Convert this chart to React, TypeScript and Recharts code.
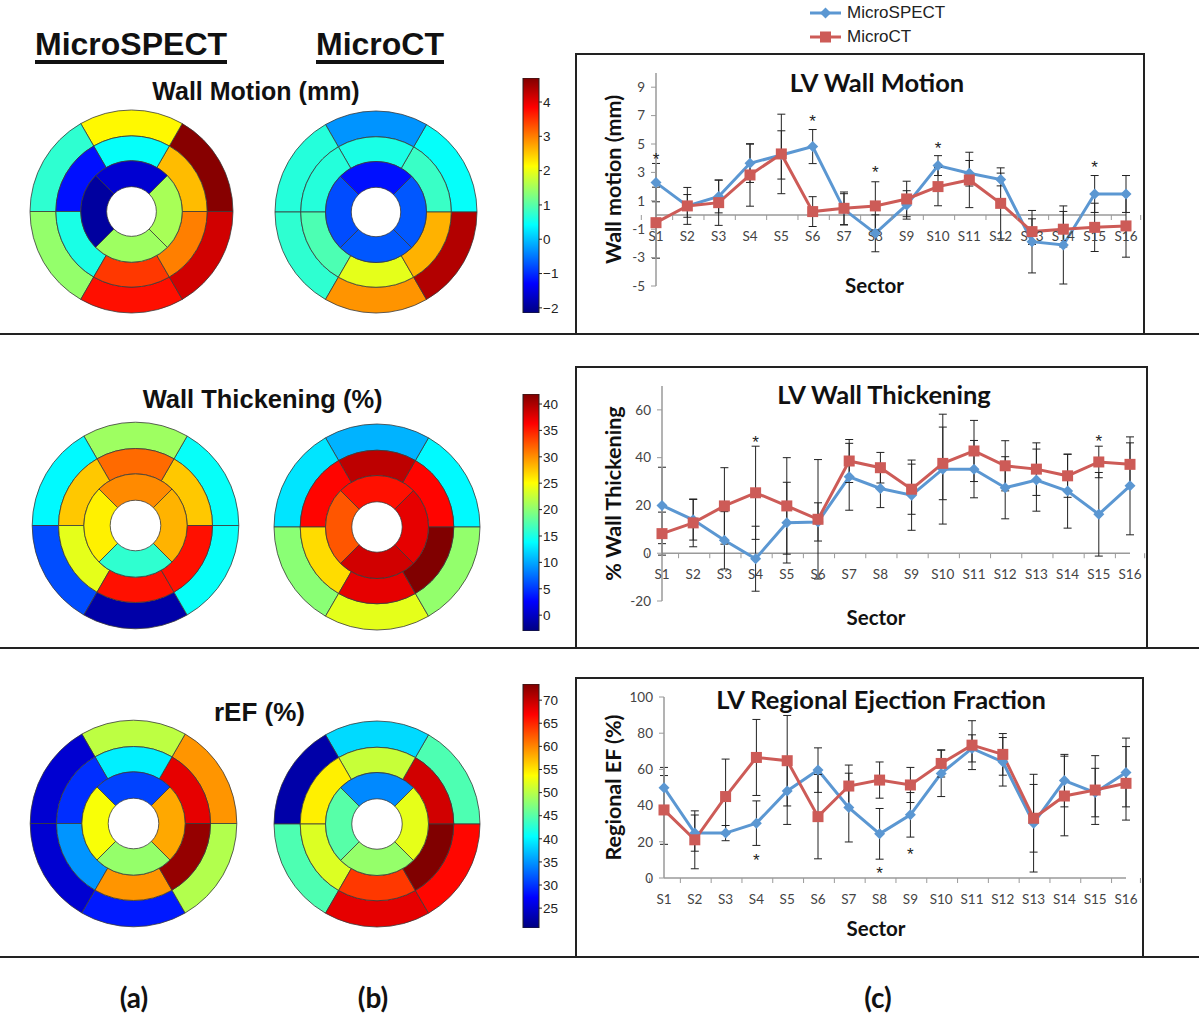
import React from 'react'
import {
  Bar,
  BarChart,
  Cell,
  ComposedChart,
  ErrorBar,
  Legend,
  Line,
  Pie,
  PieChart,
  ReferenceDot,
  ReferenceLine,
  XAxis,
  YAxis,
} from 'recharts'

// ---- line chart data ----
const sectors = ['S1', 'S2', 'S3', 'S4', 'S5', 'S6', 'S7', 'S8', 'S9', 'S10', 'S11', 'S12', 'S13', 'S14', 'S15', 'S16']

const wmSpect = [2.28, 0.64, 1.3, 3.64, 4.23, 4.82, 0.4, -1.29, 0.71, 3.48, 2.94, 2.5, -1.88, -2.11, 1.48, 1.48]
const wmSpectErr = [1.35, 1.3, 1.15, 1.35, 1.7, 1.2, 1.1, 1.3, 1.0, 0.7, 0.9, 0.45, 2.2, 2.75, 1.3, 1.3]
const wmCt = [-0.54, 0.64, 0.87, 2.82, 4.3, 0.24, 0.47, 0.64, 1.13, 2.0, 2.47, 0.82, -1.17, -1.0, -0.87, -0.77]
const wmCtErr = [2.5, 0.8, 1.6, 2.2, 2.8, 1.05, 1.15, 1.7, 1.25, 1.35, 1.95, 2.5, 0.9, 1.25, 1.7, 2.2]
const wmStars = [4.2, null, null, null, null, 6.9, null, 3.3, null, 5.0, null, null, null, null, 3.6, null]
const wmTicks = [-5, -3, -1, 1, 3, 5, 7, 9]

const wtSpect = [20, 14, 5.4, -2.3, 12.8, 13.1, 32, 27.1, 24.3, 35.2, 35.2, 27.4, 30.6, 26, 16.3, 28.2]
const wtSpectErr = [16, 8.5, 12, 13.6, 16.9, 8, 14, 8, 14.7, 23, 12, 13, 13, 15.5, 17.5, 20.5]
const wtCt = [8.2, 12.7, 19.8, 25.3, 19.8, 14.2, 38.6, 35.8, 26.8, 37.6, 42.8, 36.6, 35.2, 32.4, 38.2, 37.2]
const wtCtErr = [9, 10, 16, 19.5, 20.2, 25, 9, 6.4, 10.5, 15.2, 12.8, 10.5, 11, 9, 6.6, 9]
const wtStars = [null, null, null, 48.2, null, null, null, null, null, null, null, null, null, null, 48.6, null]
const wtTicks = [-20, 0, 20, 40, 60]

const efSpect = [49.9, 24.8, 24.8, 30.3, 48.1, 59.6, 38.9, 24.4, 34.9, 57.8, 71.6, 64.2, 30.3, 53.8, 47.2, 58.3]
const efSpectErr = [11.2, 10, 4.2, 12.3, 18.5, 12.3, 19, 14, 12.3, 12.8, 7.5, 13.4, 27, 14.5, 13.4, 19]
const efCt = [37.6, 21.1, 45, 66.6, 64.8, 33.9, 50.8, 54.1, 51.4, 63.3, 73.4, 68.3, 33, 45.3, 48.6, 52.3]
const efCtErr = [19, 16, 20.7, 21, 25, 23.3, 11.6, 10, 9.7, 7.5, 13.5, 11.5, 18.7, 22, 19, 20.3]
const efStars = [null, null, null, 11.9, null, null, null, 4.6, 15.2, null, null, null, null, null, null, null]
const efTicks = [0, 20, 40, 60, 80, 100]

// ---- bull's-eye values: outer/middle rings from 0deg counter-clockwise, inner ring from top ----
const wmSpectOuter = [4.65, 2.17, 0.73, 1.41, 3.74, 4.15]
const wmSpectMiddle = [2.58, 0.45, -1.19, 0.59, 3.47, 2.99]
const wmSpectInner = [-1.6, -1.94, 1.48, 1.55]
const wmCtOuter = [0.45, -0.3, 0.66, 0.73, 2.85, 4.36]
const wmCtMiddle = [0.8, 0.59, 0.66, 0.93, 1.96, 2.65]
const wmCtInner = [-1.19, -0.78, -0.71, -0.71]

const wtSpectOuter = [14.1, 20.8, 13.6, 6.0, -1.2, 14.1]
const wtSpectMiddle = [27.5, 31.6, 27.5, 23.9, 35.6, 35.6]
const wtSpectInner = [30.2, 25.7, 15.9, 28.4]
const wtCtOuter = [13.6, 10.5, 12.7, 19.9, 23.9, 20.3]
const wtCtMiddle = [36.1, 39.2, 36.1, 26.6, 37.4, 41.9]
const wtCtInner = [35.6, 32.5, 38.3, 37.4]

const efSpectOuter = [59.2, 50.3, 24.9, 24.9, 28.6, 49.7]
const efSpectMiddle = [68.2, 39.7, 29.7, 35, 59.2, 72.4]
const efSpectInner = [30.7, 53.4, 48.2, 58.2]
const efCtOuter = [44.5, 38.6, 22.8, 44.5, 68.2, 66.6]
const efCtMiddle = [69.3, 50.8, 54.5, 51.9, 64, 73.5]
const efCtInner = [34.4, 45, 48.2, 52.4]

const wmRange = [-2.15, 4.7]
const wtRange = [-3, 41.9]
const efRange = [20.7, 73.5]
const wmBarTicks = [-2, -1, 0, 1, 2, 3, 4]
const wtBarTicks = [0, 5, 10, 15, 20, 25, 30, 35, 40]
const efBarTicks = [25, 30, 35, 40, 45, 50, 55, 60, 65, 70]

const BLUE = '#5b97d2'
const RED = '#cd5b57'
const XL_FONT = 'Lato, "Open Sans", sans-serif'
const ARIAL = '"Liberation Sans", Arial, sans-serif'
const SERIES_ORDER = ['spect', 'ct']

const jet = (t: number) => {
  const x = Math.max(0, Math.min(1, t))
  const c = (v: number) => Math.round(255 * Math.max(0, Math.min(1, v)))
  return `rgb(${c(1.5 - Math.abs(4 * x - 3))},${c(1.5 - Math.abs(4 * x - 2))},${c(1.5 - Math.abs(4 * x - 1))})`
}

const Txt = ({ x, y, size, text, weight = 700, family = ARIAL }: any) => (
  <div
    style={{
      position: 'absolute',
      left: x - 300,
      width: 600,
      top: y - size * 0.5,
      fontSize: size,
      lineHeight: `${size}px`,
      fontWeight: weight,
      fontFamily: family,
      textAlign: 'center',
      color: '#111',
      whiteSpace: 'nowrap',
    }}
  >
    {text}
  </div>
)

const Diamond = ({ cx, cy, fill }: any) => {
  if (cx == null || cy == null) return null
  return <polygon points={`${cx},${cy - 5.5} ${cx + 5.5},${cy} ${cx},${cy + 5.5} ${cx - 5.5},${cy}`} fill={fill} />
}

const Square = ({ cx, cy, fill }: any) => {
  if (cx == null || cy == null) return null
  return <rect x={cx - 5.5} y={cy - 5.5} width={11} height={11} fill={fill} />
}

const Star = ({ cx, cy, value }: any) => {
  if (value == null || cy == null) return null
  return (
    <text x={cx} y={cy + 4} textAnchor="middle" dominantBaseline="central" fontSize={17} fontFamily={ARIAL} fill="#222">
      *
    </text>
  )
}

const XTick = ({ cx, cy, label, band, last }: any) => (
  <g>
    <line x1={cx - band / 2} x2={cx - band / 2} y1={cy} y2={cy + 5} stroke="#9a9a9a" />
    {last && <line x1={cx + band / 2} x2={cx + band / 2} y1={cy} y2={cy + 5} stroke="#9a9a9a" />}
    <text x={cx} y={cy + 21} textAnchor="middle" dominantBaseline="central" fontFamily={XL_FONT} fontSize={13.5} fill="#444">
      {label}
    </text>
  </g>
)

const YTitle = ({ viewBox, text }: any) => {
  const x = viewBox.x + 5
  const y = viewBox.y + viewBox.height / 2
  return (
    <text
      x={x}
      y={y}
      transform={`rotate(-90, ${x}, ${y})`}
      textAnchor="middle"
      dominantBaseline="central"
      fontFamily={XL_FONT}
      fontWeight={700}
      fontSize={21.5}
      fill="#111"
    >
      {text}
    </text>
  )
}

const LegendContent = ({ payload }: any) => (
  <div>
    {(payload || [])
      .filter((p: any) => SERIES_ORDER.includes(p.dataKey))
      .sort((a: any, b: any) => SERIES_ORDER.indexOf(a.dataKey) - SERIES_ORDER.indexOf(b.dataKey))
      .map((p: any) => (
        <div key={p.dataKey} style={{ display: 'flex', alignItems: 'center', height: 24 }}>
          <svg width={31} height={14}>
            <line x1={0} y1={7} x2={31} y2={7} stroke={p.color} strokeWidth={3} />
            {p.dataKey === 'spect' ? <Diamond cx={15.5} cy={7} fill={p.color} /> : <Square cx={15.5} cy={7} fill={p.color} />}
          </svg>
          <span style={{ marginLeft: 6, fontFamily: ARIAL, fontSize: 17, color: '#222' }}>{p.value}</span>
        </div>
      ))}
  </div>
)

const LinePanel = ({ left, top, width, height, margin, yWidth, domain, ticks, yTitle, spect, spectErr, ct, ctErr, stars, legend }: any) => {
  const data = sectors.map((s, i) => ({
    s,
    spect: spect[i],
    spectErr: spectErr[i],
    ct: ct[i],
    ctErr: ctErr[i],
    star: stars[i],
  }))
  const band = (width - margin.left - margin.right - yWidth) / sectors.length
  return (
    <div style={{ position: 'absolute', left, top }}>
      <ComposedChart width={width} height={height} data={data} margin={margin}>
        <XAxis dataKey="s" hide />
        <YAxis
          type="number"
          domain={domain}
          ticks={ticks}
          interval={0}
          width={yWidth}
          allowDataOverflow
          axisLine={{ stroke: '#9a9a9a', strokeWidth: 1.5 }}
          tickLine={{ stroke: '#9a9a9a' }}
          tickSize={5}
          tickMargin={6}
          tick={{ fill: '#444', fontSize: 13.5, fontFamily: XL_FONT }}
          label={<YTitle text={yTitle} />}
        />
        <ReferenceLine y={0} stroke="#9a9a9a" strokeWidth={1.5} />
        {sectors.map((s, i) => (
          <ReferenceDot
            key={s}
            x={s}
            y={0}
            r={0}
            ifOverflow="visible"
            shape={<XTick label={s} band={band} last={i === sectors.length - 1} />}
          />
        ))}
        <Line dataKey="spect" name="MicroSPECT" stroke={BLUE} strokeWidth={3} dot={<Diamond fill={BLUE} />} activeDot={false} isAnimationActive={false}>
          <ErrorBar dataKey="spectErr" direction="y" width={4} stroke="#222" strokeWidth={1} />
        </Line>
        <Line dataKey="ct" name="MicroCT" stroke={RED} strokeWidth={3} dot={<Square fill={RED} />} activeDot={false} isAnimationActive={false}>
          <ErrorBar dataKey="ctErr" direction="y" width={4} stroke="#222" strokeWidth={1} />
        </Line>
        <Line dataKey="star" stroke="none" legendType="none" dot={<Star />} activeDot={false} isAnimationActive={false} />
        {legend && (
          <Legend
            layout="vertical"
            align="center"
            verticalAlign="middle"
            content={<LegendContent />}
            wrapperStyle={{ top: -52, left: 235, width: 'auto' }}
          />
        )}
      </ComposedChart>
    </div>
  )
}

const BullsEye = ({ cx, cy, R, outer, middle, inner, range }: any) => {
  const size = Math.ceil(2 * R + 4)
  const col = (v: number) => jet((v - range[0]) / (range[1] - range[0]))
  const rings = [
    { vals: outer, r0: R * 0.745, r1: R, start: 0 },
    { vals: middle, r0: R * 0.5, r1: R * 0.745, start: 0 },
    { vals: inner, r0: R * 0.245, r1: R * 0.5, start: 45 },
  ]
  return (
    <div style={{ position: 'absolute', left: cx - size / 2, top: cy - size / 2 }}>
      <PieChart width={size} height={size} margin={{ top: 0, right: 0, bottom: 0, left: 0 }}>
        {rings.map((rg, k) => (
          <Pie
            key={k}
            data={rg.vals.map((v: number) => ({ v, arc: 1 }))}
            dataKey="arc"
            cx="50%"
            cy="50%"
            innerRadius={rg.r0}
            outerRadius={rg.r1}
            startAngle={rg.start}
            endAngle={rg.start + 360}
            stroke="#3a3a3a"
            strokeWidth={0.8}
            isAnimationActive={false}
          >
            {rg.vals.map((v: number, i: number) => (
              <Cell key={i} fill={col(v)} />
            ))}
          </Pie>
        ))}
      </PieChart>
    </div>
  )
}

const ColorBar = ({ id, top, bottom, range, ticks }: any) => {
  const stops = [0, 0.125, 0.25, 0.375, 0.5, 0.625, 0.75, 0.875, 1]
  const pad = 9
  return (
    <div style={{ position: 'absolute', left: 522, top: top - pad }}>
      <BarChart
        width={54}
        height={bottom - top + 2 * pad}
        data={[{ n: 'bar', r: range }]}
        margin={{ top: pad, right: 0, bottom: pad, left: 1 }}
        barCategoryGap={0}
      >
        <defs>
          <linearGradient id={id} x1="0" y1="1" x2="0" y2="0">
            {stops.map((t) => (
              <stop key={t} offset={t} stopColor={jet(t)} />
            ))}
          </linearGradient>
        </defs>
        <XAxis dataKey="n" hide />
        <YAxis
          orientation="right"
          type="number"
          domain={range}
          ticks={ticks}
          interval={0}
          allowDataOverflow
          width={37}
          axisLine={false}
          tickLine={{ stroke: '#222' }}
          tickSize={3}
          tickMargin={1}
          tick={{ fill: '#222', fontSize: 13.5, fontFamily: ARIAL }}
          tickFormatter={(v: number) => String(v).replace('-', '\u2212')}
        />
        <Bar dataKey="r" fill={`url(#${id})`} stroke="#222" strokeWidth={1} isAnimationActive={false} />
      </BarChart>
    </div>
  )
}

const Header = ({ left, text }: any) => (
  <div
    style={{
      position: 'absolute',
      left,
      top: 28,
      fontFamily: ARIAL,
      fontWeight: 700,
      fontSize: 32,
      lineHeight: '32px',
      color: '#111',
      borderBottom: '4px solid #111',
      whiteSpace: 'nowrap',
    }}
  >
    {text}
  </div>
)

const Rule = ({ top }: any) => (
  <div style={{ position: 'absolute', left: 0, top, width: 1199, height: 2, background: '#222' }} />
)

const Box = ({ left, top, width, height }: any) => (
  <div
    style={{
      position: 'absolute',
      left,
      top,
      width,
      height,
      boxSizing: 'border-box',
      border: '2px solid #222',
      borderBottom: 'none',
    }}
  />
)

export default function App() {
  return (
    <div style={{ position: 'absolute', left: 0, top: 0, width: 1199, height: 1018, background: '#fff', overflow: 'hidden' }}>
      <Header left={35} text="MicroSPECT" />
      <Header left={316} text="MicroCT" />

      <Txt x={256} y={91} size={25} text="Wall Motion (mm)" />
      <Txt x={262.6} y={400} size={25.5} text="Wall Thickening (%)" />
      <Txt x={259.5} y={712} size={26} text="rEF (%)" />

      <BullsEye cx={131.7} cy={211.7} R={101.5} outer={wmSpectOuter} middle={wmSpectMiddle} inner={wmSpectInner} range={wmRange} />
      <BullsEye cx={376.4} cy={212} R={101} outer={wmCtOuter} middle={wmCtMiddle} inner={wmCtInner} range={wmRange} />
      <BullsEye cx={135} cy={525.7} R={103.3} outer={wtSpectOuter} middle={wtSpectMiddle} inner={wtSpectInner} range={wtRange} />
      <BullsEye cx={376.7} cy={526.5} R={103} outer={wtCtOuter} middle={wtCtMiddle} inner={wtCtInner} range={wtRange} />
      <BullsEye cx={133} cy={823.8} R={103.3} outer={efSpectOuter} middle={efSpectMiddle} inner={efSpectInner} range={efRange} />
      <BullsEye cx={376.7} cy={824} R={103} outer={efCtOuter} middle={efCtMiddle} inner={efCtInner} range={efRange} />

      <ColorBar id="jet1" top={78} bottom={313} range={wmRange} ticks={wmBarTicks} />
      <ColorBar id="jet2" top={394} bottom={631} range={wtRange} ticks={wtBarTicks} />
      <ColorBar id="jet3" top={684} bottom={928} range={efRange} ticks={efBarTicks} />

      <Box left={575} top={53} width={570} height={282} />
      <Box left={575} top={366} width={573} height={282} />
      <Box left={575} top={677} width={569} height={280} />

      <LinePanel
        left={575}
        top={53}
        width={570}
        height={281}
        margin={{ top: 20, right: 19, bottom: 48, left: 33 }}
        yWidth={48}
        domain={[-5, 10]}
        ticks={wmTicks}
        yTitle="Wall motion (mm)"
        spect={wmSpect}
        spectErr={wmSpectErr}
        ct={wmCt}
        ctErr={wmCtErr}
        stars={wmStars}
        legend
      />
      <LinePanel
        left={575}
        top={367}
        width={573}
        height={281}
        margin={{ top: 19, right: 18, bottom: 47, left: 33 }}
        yWidth={54}
        domain={[-20, 70]}
        ticks={wtTicks}
        yTitle="% Wall Thickening"
        spect={wtSpect}
        spectErr={wtSpectErr}
        ct={wtCt}
        ctErr={wtCtErr}
        stars={wtStars}
      />
      <LinePanel
        left={575}
        top={678}
        width={569}
        height={279}
        margin={{ top: 19, right: 18, bottom: 79, left: 33 }}
        yWidth={56}
        domain={[0, 100]}
        ticks={efTicks}
        yTitle="Regional EF (%)"
        spect={efSpect}
        spectErr={efSpectErr}
        ct={efCt}
        ctErr={efCtErr}
        stars={efStars}
      />

      <Txt x={877} y={83} size={25.5} text="LV Wall Motion" family={XL_FONT} />
      <Txt x={884} y={395} size={25.5} text="LV Wall Thickening" family={XL_FONT} />
      <Txt x={881} y={700} size={25.5} text="LV Regional Ejection Fraction" family={XL_FONT} />
      <Txt x={874.5} y={285} size={20.5} text="Sector" family={XL_FONT} />
      <Txt x={876} y={617} size={20.5} text="Sector" family={XL_FONT} />
      <Txt x={876} y={928} size={20.5} text="Sector" family={XL_FONT} />

      <Rule top={333} />
      <Rule top={647} />
      <Rule top={956} />

      <Txt x={134} y={997} size={28} text="(a)" family={XL_FONT} />
      <Txt x={373} y={997} size={28} text="(b)" family={XL_FONT} />
      <Txt x={878} y={997} size={28} text="(c)" family={XL_FONT} />
    </div>
  )
}
